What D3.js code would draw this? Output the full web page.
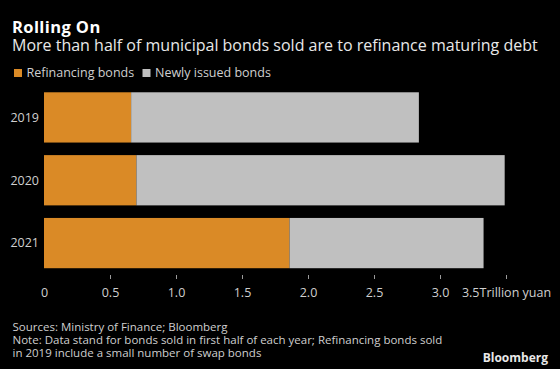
<!DOCTYPE html>
<html>
<head>
<meta charset="utf-8">
<script src="https://cdn.jsdelivr.net/npm/d3@7"></script>
<style>
  body { margin: 0; background: #000; }
  svg { display: block; font-family: "Open Sans", sans-serif; }
</style>
</head>
<body>
<div id="chart"></div>
<script>
// chart data (trillion yuan, first half of each year)
var years = ["2019", "2020", "2021"];
var refinancing = [0.66, 0.70, 1.86];
var newlyIssued = [2.18, 2.79, 1.47];
var seriesNames = ["Refinancing bonds", "Newly issued bonds"];
var xTicks = [0, 0.5, 1.0, 1.5, 2.0, 2.5, 3.0, 3.5];

var svgWidth = 560;
var svgHeight = 369;

var colors = ["#da8a26", "#c0c0c0"];

var svg = d3.select("#chart")
    .append("svg")
    .attr("width", svgWidth)
    .attr("height", svgHeight);

svg.append("rect")
    .attr("width", svgWidth)
    .attr("height", svgHeight)
    .attr("fill", "#000");

// title + subtitle
svg.append("text")
    .attr("x", 12)
    .attr("y", 32.5)
    .attr("fill", "#fff")
    .attr("font-weight", "bold")
    .attr("font-size", 16.5)
    .attr("letter-spacing", 0.4)
    .text("Rolling On");

svg.append("text")
    .attr("x", 12)
    .attr("y", 50.5)
    .attr("fill", "#e8e8e8")
    .attr("font-size", 16)
    .text("More than half of municipal bonds sold are to refinance maturing debt");

// legend
var legendX = [14, 142.5];
var legend = svg.selectAll(".legend")
    .data(seriesNames)
    .enter()
    .append("g")
    .attr("class", "legend")
    .attr("transform", (d, i) => `translate(${legendX[i]}, 69)`);

legend.append("rect")
    .attr("width", 8)
    .attr("height", 8)
    .attr("fill", (d, i) => colors[i]);

legend.append("text")
    .attr("x", 12.5)
    .attr("y", 8)
    .attr("fill", "#cfcfcf")
    .attr("font-size", 12.5)
    .text(d => d);

// scales
var xScale = d3.scaleLinear()
    .domain([0, 3.5])
    .range([44, 506]);

var yScale = d3.scaleBand()
    .domain(years)
    .range([86, 274.5])
    .paddingInner(0.2)
    .paddingOuter(0.1);

// stacked data
var table = years.map((y, i) => ({ year: y, refinancing: refinancing[i], newly: newlyIssued[i] }));
var stack = d3.stack().keys(["refinancing", "newly"]);
var layers = stack(table);

svg.selectAll(".layer")
    .data(layers)
    .enter()
    .append("g")
    .attr("class", "layer")
    .attr("fill", (d, i) => colors[i])
    .selectAll("rect")
    .data(d => d)
    .enter()
    .append("rect")
    .attr("x", d => xScale(d[0]))
    .attr("y", d => yScale(d.data.year))
    .attr("width", d => xScale(d[1]) - xScale(d[0]))
    .attr("height", yScale.bandwidth());

// year labels
svg.selectAll(".year")
    .data(years)
    .enter()
    .append("text")
    .attr("class", "year")
    .attr("x", 39)
    .attr("y", d => yScale(d) + yScale.bandwidth() / 2)
    .attr("dy", "0.35em")
    .attr("text-anchor", "end")
    .attr("fill", "#cfcfcf")
    .attr("font-size", 12.5)
    .text(d => d);

// x axis
var xAxis = d3.axisBottom(xScale)
    .tickValues(xTicks)
    .tickSize(4)
    .tickPadding(9.5)
    .tickFormat(d => d === 0 ? "0" : d === 3.5 ? "3.5Trillion yuan" : d3.format(".1f")(d));

var axisG = svg.append("g")
    .attr("transform", "translate(0, 275)")
    .call(xAxis);

axisG.select(".domain").remove();
axisG.selectAll(".tick line")
    .attr("stroke", "#9a9a9a")
    .attr("opacity", d => d === 0 ? 0 : 1);
axisG.selectAll(".tick text")
    .attr("fill", "#cfcfcf")
    .attr("font-size", 12.5)
    .attr("font-family", "Open Sans, sans-serif");

// footnotes
var notes = [
    "Sources: Ministry of Finance; Bloomberg",
    "Note: Data stand for bonds sold in first half of each year; Refinancing bonds sold",
    "in 2019 include a small number of swap bonds"
];
svg.selectAll(".note")
    .data(notes)
    .enter()
    .append("text")
    .attr("class", "note")
    .attr("x", 12.5)
    .attr("y", (d, i) => 330.5 + i * 13.4)
    .attr("fill", "#cfcfcf")
    .attr("font-size", 11.5)
    .text(d => d);

svg.append("text")
    .attr("x", 548)
    .attr("y", 361.5)
    .attr("text-anchor", "end")
    .attr("fill", "#e8e8e8")
    .attr("font-weight", "bold")
    .attr("font-size", 12)
    .text("Bloomberg");
</script>
</body>
</html>
